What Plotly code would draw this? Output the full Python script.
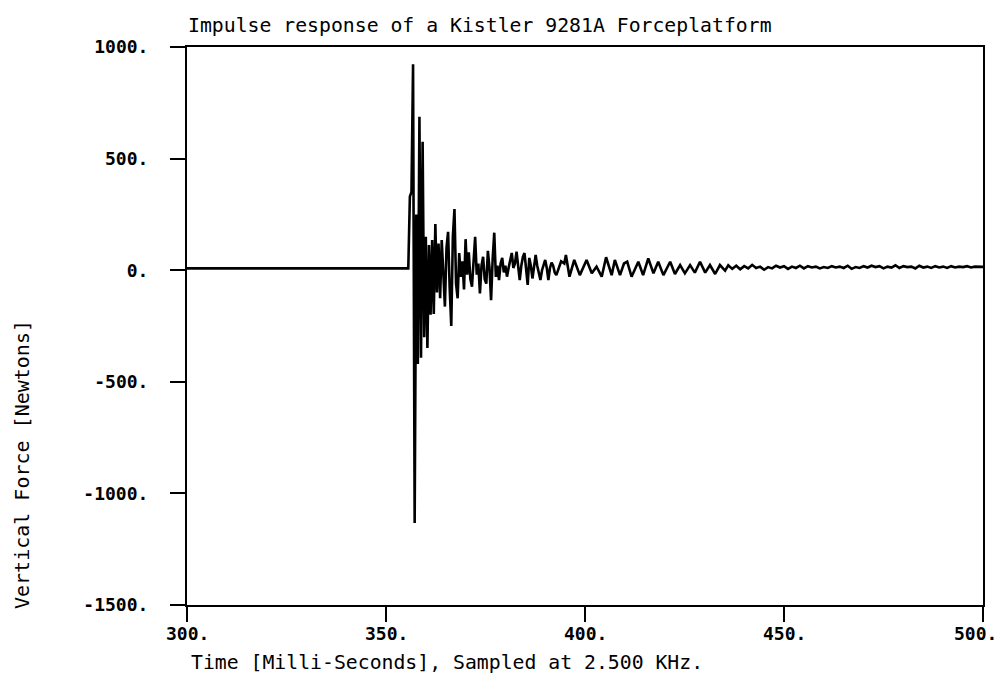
import plotly.graph_objects as go

# ---- data (time in ms, vertical force in N) ----
time_ms = [
    300.0, 355.6, 356.0, 356.4, 356.8, 357.2, 357.6, 358.0, 358.4, 358.8,
    359.2, 359.6, 360.0, 360.4, 360.8, 361.2, 361.6, 362.0, 362.4, 362.8,
    363.2, 363.6, 364.0, 364.4, 364.8, 365.2, 365.6, 366.0, 366.4, 366.8,
    367.2, 367.6, 368.0, 368.4, 368.8, 369.2, 369.6, 370.0, 370.4, 370.8,
    371.2, 371.6, 372.0, 372.4, 372.8, 373.2, 373.6, 374.0, 374.4, 374.8,
    375.2, 375.6, 376.0, 376.4, 376.8, 377.2, 377.6, 378.0, 378.4, 378.8,
    379.2, 379.6, 380.0, 380.4, 380.8, 381.2, 381.6, 382.0, 382.4, 382.8,
    383.2, 383.6, 384.0, 384.4, 384.8, 385.2, 385.6, 386.0, 386.4, 386.8,
    387.2, 387.6, 388.0, 388.4, 388.8, 389.2, 389.6, 390.0, 390.4, 390.8,
    391.2, 391.6, 392.0, 392.4, 392.8, 393.2, 394.0, 394.8, 395.2, 396.1,
    397.3, 398.7, 400.4, 401.7, 402.9, 404.2, 405.3, 406.7, 407.5, 408.8,
    409.8, 410.6, 411.7, 413.4, 414.6, 415.9, 417.2, 418.4, 419.7, 421.4,
    422.6, 423.9, 425.1, 426.4, 427.6, 428.9, 430.2, 431.4, 432.7, 433.9,
    435.2,
    436, 437, 438, 439, 440, 441, 442, 443, 444, 445,
    446, 447, 448, 449, 450, 451, 452, 453, 454, 455,
    456, 457, 458, 459, 460, 461, 462, 463, 464, 465,
    466, 467, 468, 469, 470, 471, 472, 473, 474, 475,
    476, 477, 478, 479, 480, 481, 482, 483, 484, 485,
    486, 487, 488, 489, 490, 491, 492, 493, 494, 495,
    496, 497, 498, 499, 500,
]
force_n = [
    8, 8, 330, 350, 923, -1133, 250, -420, 688, -392,
    576, -300, 150, -349, 113, -200, 135, -196, 207, -100,
    120, -125, 135, -60, -163, 100, 172, -80, -250, 150,
    274, -60, -126, 77, -30, 40, -86, 139, -20, 80,
    -40, -74, 60, 150, -20, 30, -104, 20, 60, -40,
    -60, 87, 10, -134, 50, 168, -30, 20, -44, 30,
    55, -10, 20, -29, 10, 40, 77, 10, 30, 83,
    0, -44, 20, 60, 77, -10, -66, 55, 20, -37,
    30, 68, 20, -20, -44, 0, 30, 46, 10, -44,
    10, 34, 20, -10, -22, 0, 40, 30, 68, -29,
    46, -22, 46, -14, 16, -29, 58, -22, 46, -22,
    30, 38, -29, 38, -22, 53, -14, 38, -22, 38,
    -17, 23, -14, 23, -11, 38, -11, 23, -17, 23,
    -2,
    22, 6, 20, 4, 18, 8, 24, 10, 16, 2,
    14, 8, 20, 12, 18, 6, 16, 10, 20, 8,
    18, 12, 16, 8, 14, 10, 18, 12, 16, 10,
    20, 6, 14, 10, 18, 12, 20, 14, 18, 8,
    16, 12, 22, 10, 18, 14, 16, 8, 20, 12,
    16, 10, 18, 12, 16, 10, 18, 12, 16, 14,
    18, 12, 16, 14, 15,
]

x_tickvals = [300, 350, 400, 450, 500]
x_ticktext = ["300.", "350.", "400.", "450.", "500."]
y_tickvals = [1000, 500, 0, -500, -1000, -1500]
y_ticktext = ["1000.", "500.", "0.", "-500.", "-1000.", "-1500."]

title_text = "Impulse response of a Kistler 9281A Forceplatform"
x_title = "Time [Milli-Seconds], Sampled at 2.500 KHz."
y_title = "Vertical Force [Newtons]"

FONT = "DejaVu Sans Mono"
TICKFONT = dict(family=FONT, size=18, color="black", weight="bold")

fig = go.Figure()
fig.add_trace(go.Scatter(
    x=time_ms, y=force_n, mode="lines",
    line=dict(color="black", width=2.6),
    showlegend=False, hoverinfo="skip",
))

axis_common = dict(
    showline=True, linecolor="black", linewidth=2, mirror=True,
    ticks="outside", ticklen=15, tickwidth=2, tickcolor="black",
    showgrid=False, zeroline=False, automargin=False,
    tickfont=TICKFONT,
)

# x tick labels placed on the x scale as annotations (last one right-aligned
# so it stays inside the page, as in the reference)
x_label_annotations = []
for i, (v, t) in enumerate(zip(x_tickvals, x_ticktext)):
    last = i == len(x_tickvals) - 1
    x_label_annotations.append(dict(
        text=t, xref="x", yref="paper", x=v, y=(605 - 633) / 558,
        xanchor="right" if last else "center", yanchor="middle",
        xshift=16 if last else 0, showarrow=False, font=TICKFONT,
    ))

fig.update_layout(
    width=1000, height=684,
    margin=dict(l=187, r=17, t=47, b=79, autoexpand=False),
    paper_bgcolor="white", plot_bgcolor="white",
    title=dict(
        text=title_text, x=0.188, xref="container", xanchor="left",
        y=1 - 25 / 684, yref="container", yanchor="middle",
        font=dict(family=FONT, size=19.8, color="black"),
    ),
    xaxis=dict(range=[300, 500], tickvals=x_tickvals, showticklabels=False,
               **axis_common),
    yaxis=dict(range=[-1500, 1000], tickvals=y_tickvals, ticktext=y_ticktext,
               ticklabelstandoff=18, **axis_common),
    annotations=x_label_annotations + [
        dict(text=x_title, xref="paper", yref="paper", x=0.002, y=(605 - 662) / 558,
             xanchor="left", yanchor="middle", showarrow=False,
             font=dict(family=FONT, size=19.8, color="black")),
        dict(text=y_title, xref="paper", yref="paper", x=(22 - 187) / 796,
             y=(605 - 465) / 558, xanchor="center", yanchor="middle",
             textangle=-90, showarrow=False,
             font=dict(family=FONT, size=20, color="black")),
    ],
)

fig.write_html("out.html")
